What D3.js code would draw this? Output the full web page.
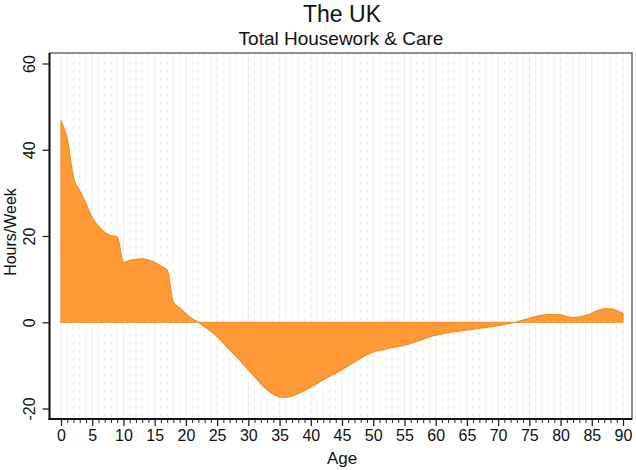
<!DOCTYPE html>
<html>
<head>
<meta charset="utf-8">
<script src="https://cdn.jsdelivr.net/npm/d3@7"></script>
<style>
  html, body { margin: 0; padding: 0; background: #fff; }
  svg { display: block; font-family: "Liberation Sans", Arial, sans-serif; }
</style>
</head>
<body>
<svg id="chart" width="636" height="470"></svg>
<script>
const title = "The UK";
const subtitle = "Total Housework & Care";
const xLabel = "Age";
const yLabel = "Hours/Week";
const ages = d3.range(0, 91);
const values = [
  46.8, 42.5, 33.5, 30.5, 27.5, 24.2, 22.2, 20.8, 20.1, 19.8,
  13.9, 14.3, 14.6, 14.7, 14.4, 13.9, 13.0, 12.1, 4.6, 3.3,
  2.0, 0.8, 0.0, -1.0, -2.1, -3.3, -4.8, -6.3, -7.8, -9.4,
  -11.0, -12.6, -14.2, -15.6, -16.7, -17.3, -17.4, -17.1, -16.5, -15.8,
  -15.0, -14.2, -13.3, -12.6, -11.8, -11.0, -10.1, -9.2, -8.3, -7.5,
  -6.9, -6.5, -6.2, -5.9, -5.6, -5.3, -4.9, -4.4, -3.9, -3.4,
  -3.0, -2.7, -2.4, -2.2, -2.0, -1.8, -1.6, -1.4, -1.2, -1.0,
  -0.8, -0.5, -0.2, 0.1, 0.5, 0.9, 1.3, 1.6, 1.8, 1.8,
  1.7, 1.3, 1.1, 1.2, 1.6, 2.1, 2.7, 3.1, 3.1, 2.7,
  2.0
];
const xMajorTicks = d3.range(0, 91, 5);
const xMinorTicks = d3.range(0, 91, 1);
const yTicks = [-20, 0, 20, 40, 60];

const svg = d3.select("#chart");
const frame = { left: 49.5, right: 632, top: 53, bottom: 419 };
const x = d3.scaleLinear().domain([0, 90]).range([61, 623]);
const y = d3.scaleLinear().domain([-20, 60]).range([408.5, 63.5]);
const textColor = "#111";
const fmt = d => String(d);

// gridlines
const grid = svg.append("g");
grid.selectAll("line.minor")
  .data(xMinorTicks.filter(d => d % 5 !== 0))
  .join("line")
  .attr("x1", d => x(d)).attr("x2", d => x(d))
  .attr("y1", frame.top).attr("y2", frame.bottom)
  .attr("stroke", "#e9e9e9").attr("stroke-width", 1)
  .attr("stroke-dasharray", "4,4");
grid.selectAll("line.major")
  .data(xMajorTicks)
  .join("line")
  .attr("x1", d => x(d)).attr("x2", d => x(d))
  .attr("y1", frame.top).attr("y2", frame.bottom)
  .attr("stroke", "#eeeeee").attr("stroke-width", 1.2);

// area
const data = ages.map((a, i) => ({ age: a, v: values[i] }));
const area = d3.area()
  .x(d => x(d.age))
  .y0(y(0))
  .y1(d => y(d.v))
  .curve(d3.curveMonotoneX);
svg.append("path")
  .datum(data)
  .attr("d", area)
  .attr("fill", "#ff9a36")
  .attr("stroke", "#f58b1c")
  .attr("stroke-width", 1.2);

// frame
svg.append("rect")
  .attr("x", frame.left).attr("y", frame.top)
  .attr("width", frame.right - frame.left)
  .attr("height", frame.bottom - frame.top)
  .attr("fill", "none")
  .attr("stroke", "#444").attr("stroke-width", 1.2);
svg.append("line")
  .attr("x1", frame.left).attr("x2", frame.left)
  .attr("y1", frame.top).attr("y2", frame.bottom + 1)
  .attr("stroke", "#111").attr("stroke-width", 2);
svg.append("line")
  .attr("x1", frame.left - 1).attr("x2", frame.right)
  .attr("y1", frame.bottom).attr("y2", frame.bottom)
  .attr("stroke", "#111").attr("stroke-width", 2);

// x axis
const xAxisMajor = d3.axisBottom(x).tickValues(xMajorTicks).tickSize(7).tickPadding(4).tickFormat(fmt);
const xAxisMinor = d3.axisBottom(x).tickValues(xMinorTicks.filter(d => d % 5 !== 0)).tickSize(4).tickFormat("");
const gxm = svg.append("g").attr("transform", `translate(0,${frame.bottom})`).call(xAxisMinor);
gxm.select(".domain").remove();
gxm.selectAll(".tick line").attr("stroke", "#222").attr("stroke-width", 1);
const gx = svg.append("g").attr("transform", `translate(0,${frame.bottom})`).call(xAxisMajor);
gx.select(".domain").remove();
gx.selectAll(".tick line").attr("stroke", "#222").attr("stroke-width", 1.3);
gx.selectAll(".tick text").attr("font-size", 16).attr("fill", textColor)
  .attr("font-family", "Liberation Sans, Arial, sans-serif");

// y axis
const yAxis = d3.axisLeft(y).tickValues(yTicks).tickSize(7).tickFormat(fmt);
const gy = svg.append("g").attr("transform", `translate(${frame.left},0)`).call(yAxis);
gy.select(".domain").remove();
gy.selectAll(".tick line").attr("stroke", "#222").attr("stroke-width", 1.3);
gy.selectAll(".tick text")
  .attr("font-size", 16).attr("fill", textColor)
  .attr("font-family", "Liberation Sans, Arial, sans-serif")
  .attr("text-anchor", "middle")
  .attr("dy", null)
  .attr("x", null)
  .attr("transform", "translate(-15,0) rotate(-90)")
  .attr("y", 0);

// titles
svg.append("text").attr("x", 342).attr("y", 22)
  .attr("text-anchor", "middle").attr("font-size", 23).attr("fill", textColor).text(title);
svg.append("text").attr("x", 341).attr("y", 45)
  .attr("text-anchor", "middle").attr("font-size", 19).attr("fill", textColor).text(subtitle);
svg.append("text").attr("x", 342).attr("y", 464)
  .attr("text-anchor", "middle").attr("font-size", 17).attr("fill", textColor).text(xLabel);
svg.append("text")
  .attr("transform", `translate(16,232) rotate(-90)`)
  .attr("text-anchor", "middle").attr("font-size", 16).attr("fill", textColor).text(yLabel);
</script>
</body>
</html>
